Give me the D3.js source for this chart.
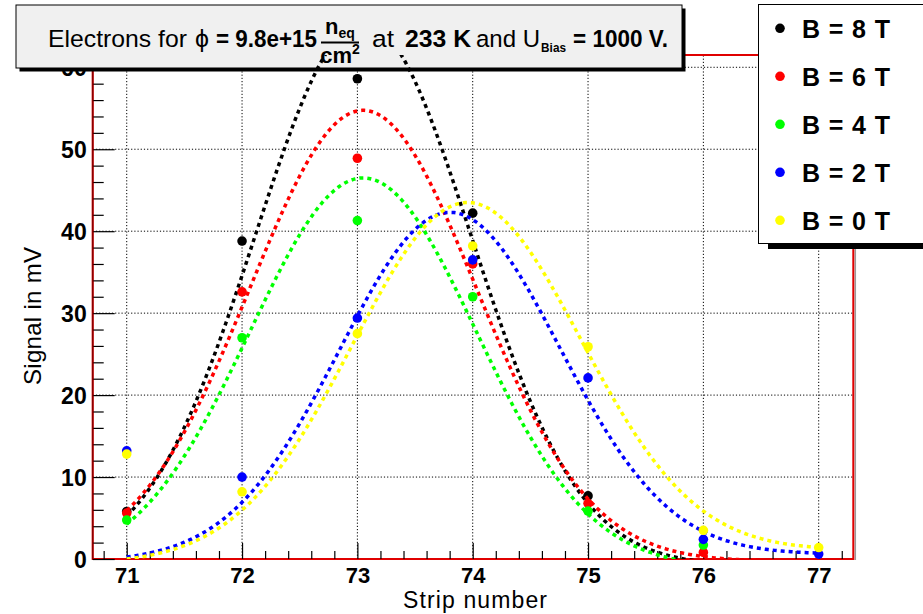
<!DOCTYPE html>
<html>
<head>
<meta charset="utf-8">
<script src="https://cdn.jsdelivr.net/npm/d3@7"></script>
<style>
  body { margin: 0; background: #fff; }
  svg { display: block; font-family: "Liberation Sans", Arial, sans-serif; }
</style>
</head>
<body>
<div id="chart"></div>
<script>
// strips read out and the measured signal per magnetic field (null = not visible)
const strips = [71, 72, 73, 74, 75, 76, 77];
const sigB8 = [5.8, 38.8, 58.6, 42.2, 7.7, null, null];
const sigB6 = [5.6, 32.6, 48.9, 36.0, 6.8, 0.8, null];
const sigB4 = [4.75, 27.0, 41.3, 32.0, 5.85, 1.7, null];
const sigB2 = [13.2, 10.0, 29.4, 36.5, 22.1, 2.4, 0.6];
const sigB0 = [12.8, 8.2, 27.5, 38.2, 25.9, 3.5, 1.4];

const seriesNames = ["B = 8 T", "B = 6 T", "B = 4 T", "B = 2 T", "B = 0 T"];
const seriesColors = ["#000000", "#ff0000", "#00ff00", "#0000ff", "#ffff00"];
const seriesValues = [sigB8, sigB6, sigB4, sigB2, sigB0];

// gauss + linear background fits, parameters
const fitAmp = [66.3, 55.05, 47.6, 42.2, 43.25];
const fitMean = [73.05, 73.05, 73.05, 73.8, 73.95];
const fitSigma = [0.937, 0.981, 0.981, 0.953, 0.990];
const fitP0 = [-0.8, -0.3, -1.1, 0.1, 0.25];
const fitP1 = [0, 0, 0, 0.15, 0.26];
const fitRange = [71, 77];

const yTicks = [0, 10, 20, 30, 40, 50, 60];
const xTicks = [71, 72, 73, 74, 75, 76, 77];

const width = 923, height = 614;
const frameL = 92.7, frameR = 853.3, frameT = 55, frameB = 559;

const svg = d3.select("#chart").append("svg")
  .attr("width", width)
  .attr("height", height);

const x = d3.scaleLinear().domain([70.705, 77.3]).range([frameL, frameR]);
const y = d3.scaleLinear().domain([0, 61.5]).range([frameB, frameT]);

svg.append("defs").append("clipPath").attr("id", "frame")
  .append("rect")
  .attr("x", frameL).attr("y", frameT)
  .attr("width", frameR - frameL).attr("height", frameB - frameT);

// dotted grid
svg.append("g")
  .selectAll("line")
  .data(xTicks)
  .join("line")
  .attr("x1", d => x(d)).attr("x2", d => x(d))
  .attr("y1", frameB).attr("y2", frameT)
  .attr("stroke", "#000").attr("stroke-width", 1)
  .attr("stroke-dasharray", "1.2,2");

svg.append("g")
  .selectAll("line")
  .data(yTicks.filter(d => d > 0))
  .join("line")
  .attr("x1", frameL).attr("x2", frameR)
  .attr("y1", d => y(d)).attr("y2", d => y(d))
  .attr("stroke", "#000").attr("stroke-width", 1)
  .attr("stroke-dasharray", "1.2,2");

// frame
svg.append("line")
  .attr("x1", frameR + 2).attr("x2", frameR + 2)
  .attr("y1", frameT).attr("y2", frameB + 1)
  .attr("stroke", "#999").attr("stroke-width", 1.5);
svg.append("rect")
  .attr("x", frameL).attr("y", frameT)
  .attr("width", frameR - frameL).attr("height", frameB - frameT)
  .attr("fill", "none")
  .attr("stroke", "#e00000").attr("stroke-width", 2);

// axes, ticks pointing into the frame
function styleAxis(g) {
  g.select(".domain").remove();
  g.selectAll(".tick line").attr("stroke", "#000").attr("stroke-width", 1.2);
  g.selectAll("text")
    .attr("font-family", "'Liberation Sans', Arial, sans-serif")
    .attr("font-size", 23)
    .attr("font-weight", "bold")
    .attr("fill", "#000");
}

const yMinor = d3.range(0, 61, 2).filter(d => d % 10 !== 0);
svg.append("g")
  .attr("transform", `translate(${frameL},0)`)
  .call(d3.axisLeft(y).tickValues(yMinor).tickSize(-11).tickFormat(""))
  .call(styleAxis);
svg.append("g")
  .attr("transform", `translate(${frameL},0)`)
  .call(d3.axisLeft(y).tickValues(yTicks).tickSize(-22).tickPadding(6).tickFormat(d3.format("d")))
  .call(styleAxis)
  .selectAll("text").attr("dy", "0.36em");

const xMinor = d3.range(70.8, 77.25, 0.2).filter(d => Math.abs(d - Math.round(d)) > 0.01);
svg.append("g")
  .attr("transform", `translate(0,${frameB})`)
  .call(d3.axisBottom(x).tickValues(xMinor).tickSize(-8).tickFormat(""))
  .call(styleAxis);
svg.append("g")
  .attr("transform", `translate(0,${frameB})`)
  .call(d3.axisBottom(x).tickValues(xTicks).tickSize(-16).tickPadding(8).tickFormat(d3.format("d")))
  .call(styleAxis)
  .selectAll("text")
  .attr("font-size", 22)
  .attr("dy", "0.72em");

// left axis line over the red frame
svg.append("line")
  .attr("x1", frameL).attr("x2", frameL)
  .attr("y1", frameT).attr("y2", frameB)
  .attr("stroke", "#8a0000").attr("stroke-width", 1.5);

// axis titles
svg.append("text")
  .attr("x", (frameL + frameR) / 2 + 2).attr("y", 608)
  .attr("text-anchor", "middle")
  .attr("font-size", 23)
  .attr("textLength", 144)
  .text("Strip number");

svg.append("text")
  .attr("transform", "translate(41,316) rotate(-90)")
  .attr("text-anchor", "middle")
  .attr("font-size", 24)
  .attr("textLength", 138)
  .text("Signal in mV");

// title pave
const title = svg.append("g");
title.append("rect")
  .attr("x", 19.5).attr("y", 8.5).attr("width", 666).attr("height", 63)
  .attr("fill", "#000");
title.append("rect")
  .attr("x", 16).attr("y", 5).attr("width", 666).attr("height", 63)
  .attr("fill", "#f0f0f0").attr("stroke", "#000").attr("stroke-width", 1);

function titleText(tx, ty, str, size, bold, len) {
  const t = title.append("text")
    .attr("x", tx).attr("y", ty)
    .attr("font-size", size)
    .attr("font-weight", bold ? "bold" : "normal")
    .text(str);
  if (len) t.attr("textLength", len).attr("lengthAdjust", "spacingAndGlyphs");
  return t;
}
titleText(48, 47, "Electrons for", 24.5, false, 139);
titleText(195, 47, "\u03D5", 23, false, 14);
titleText(216, 47, "= 9.8e+15", 24.5, true, 101);

// n_eq / cm^2 fraction
const numer = title.append("text")
  .attr("x", 340).attr("y", 34)
  .attr("text-anchor", "middle")
  .attr("font-weight", "bold");
numer.append("tspan").attr("font-size", 22).text("n");
numer.append("tspan").attr("font-size", 14).attr("dy", 4).text("eq");
title.append("line")
  .attr("x1", 321).attr("x2", 359).attr("y1", 42.5).attr("y2", 42.5)
  .attr("stroke", "#000").attr("stroke-width", 1.8);
const denom = title.append("text")
  .attr("x", 340).attr("y", 63)
  .attr("text-anchor", "middle")
  .attr("font-weight", "bold");
denom.append("tspan").attr("font-size", 22).text("cm");
denom.append("tspan").attr("font-size", 14).attr("dy", -9).text("2");

titleText(372, 47, "at", 24.5, false, 22);
titleText(405, 47, "233 K", 24.5, true, 66);
const ubias = title.append("text")
  .attr("x", 476).attr("y", 47)
  .attr("textLength", 90).attr("lengthAdjust", "spacingAndGlyphs");
ubias.append("tspan").attr("font-size", 24.5).text("and U");
ubias.append("tspan").attr("font-size", 12).attr("font-weight", "bold")
  .attr("dx", 1).attr("dy", 5).text("Bias");
titleText(573, 47, "= 1000 V.", 24.5, true, 95);

// fitted curves and the measured points
const line = d3.line()
  .defined(d => d[1] > -5)
  .x(d => x(d[0]))
  .y(d => y(d[1]));

const plot = svg.append("g");
seriesValues.forEach((vals, i) => {
  const pts = strips.map((s, j) => [s, vals[j]]).filter(d => d[1] !== null);
  plot.append("g")
    .selectAll("circle")
    .data(pts)
    .join("circle")
    .attr("cx", d => x(d[0]))
    .attr("cy", d => y(d[1]))
    .attr("r", 4.8)
    .attr("fill", seriesColors[i]);

  const xs = d3.range(fitRange[0], fitRange[1] + 0.001, 0.02);
  const curve = xs.map(v => {
    const d = v - fitMean[i];
    return [v, fitAmp[i] * Math.exp(-d * d / (2 * fitSigma[i] * fitSigma[i])) + fitP0[i] + fitP1[i] * d];
  });
  plot.append("path")
    .datum(curve)
    .attr("clip-path", "url(#frame)")
    .attr("d", line)
    .attr("fill", "none")
    .attr("stroke", seriesColors[i])
    .attr("stroke-width", 3.5)
    .attr("stroke-dasharray", "4,4");
});

// legend
const legend = svg.append("g");
legend.append("rect")
  .attr("x", 768).attr("y", 240).attr("width", 160).attr("height", 9)
  .attr("fill", "#000");
legend.append("rect")
  .attr("x", 758.5).attr("y", 4.5).attr("width", 170).attr("height", 239)
  .attr("fill", "#fff").attr("stroke", "#000").attr("stroke-width", 1);

const entries = legend.selectAll("g.entry")
  .data(seriesNames)
  .join("g")
  .attr("class", "entry")
  .attr("transform", (d, i) => `translate(0,${28.3 + 48 * i})`);
entries.append("circle")
  .attr("cx", 780).attr("cy", 0).attr("r", 4.8)
  .attr("fill", (d, i) => seriesColors[i]);
entries.append("text")
  .attr("x", 802).attr("y", 10)
  .attr("font-size", 25)
  .attr("font-weight", "bold")
  .attr("textLength", 88)
  .text(d => d);
</script>
</body>
</html>
